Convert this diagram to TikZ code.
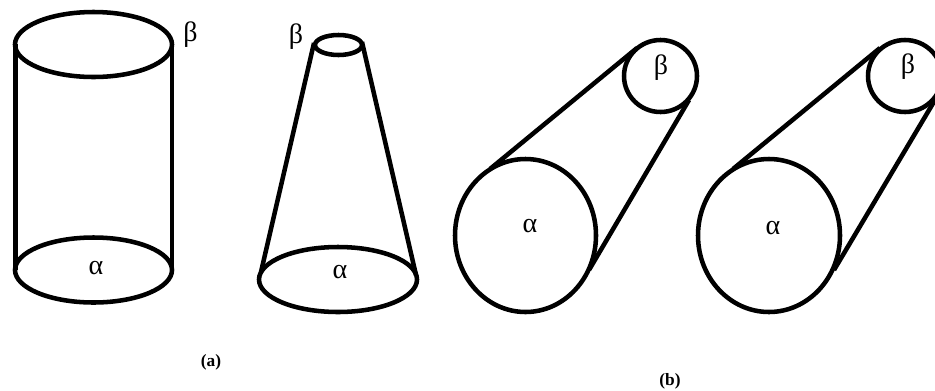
\documentclass[tikz,border=0pt]{standalone}
\usepackage{fontspec}
\setmainfont{Liberation Serif}
\usepackage{tikz}
\tikzset{
  edge/.style={line width=3.4pt,black},
  sym/.style={font=\fontsize{21}{21}\selectfont,inner sep=0pt},
  figlabel/.style={font=\fontsize{13}{14}\selectfont\bfseries,inner sep=0pt}
}
\begin{document}
\begin{tikzpicture}[x=0.75pt,y=-0.75pt]
\clip (0,0) rectangle (935,390);
% cylinder
\draw[edge] (93.5,44.5) ellipse (78.5 and 32.5);
\draw[edge] (93.5,270) ellipse (78.5 and 32.5);
\coordinate (cylTL) at (15.5,44);
\coordinate (cylBL) at (15.5,270);
\coordinate (cylTR) at (172,44);
\coordinate (cylBR) at (172,270);
\draw[edge] (cylTL)--(cylBL);
\draw[edge] (cylTR)--(cylBR);
\node[sym] (betaA) at (190.5,35) {β};
\node[sym] (alphaA) at (96,268) {α};
% cone
\draw[edge] (338.5,45) ellipse (23.5 and 10);
\draw[edge] (338,279.5) ellipse (79 and 32.5);
\coordinate (conTL) at (314,43);
\coordinate (conBL) at (261,272);
\coordinate (conTR) at (362,42);
\coordinate (conBR) at (416,275);
\draw[edge] (conTL)--(conBL);
\draw[edge] (conTR)--(conBR);
\node[sym] (betaB) at (296,37) {β};
\node[sym] (alphaB) at (340,272) {α};
\node[figlabel] (capA) at (211,362) {(a)};
% belts
\draw[edge] (525.5,235.5) ellipse (70.5 and 76.5);
\draw[edge] (660.5,76) ellipse (36.5 and 36);
\coordinate (beltTA) at (637,48);
\coordinate (beltLA) at (490,169);
\coordinate (beltRA) at (689,100);
\coordinate (beltBA) at (589,270);
\draw[edge] (beltTA)--(beltLA);
\draw[edge] (beltRA)--(beltBA);
\node[sym] (betaC) at (661,68) {β};
\node[sym] (alphaC) at (530,226) {α};
\draw[edge] (769,235.5) ellipse (71 and 76.5);
\draw[edge] (905,76) ellipse (37 and 36);
\coordinate (beltTB) at (880,48);
\coordinate (beltLB) at (733,169);
\coordinate (beltRB) at (935,100);
\coordinate (beltBB) at (834,270);
\draw[edge] (beltTB)--(beltLB);
\draw[edge] (beltRB)--(beltBB);
\node[sym] (betaD) at (908,67) {β};
\node[sym] (alphaD) at (773,228) {α};
\node[figlabel] (capB) at (670,381) {(b)};
\end{tikzpicture}
\end{document}
